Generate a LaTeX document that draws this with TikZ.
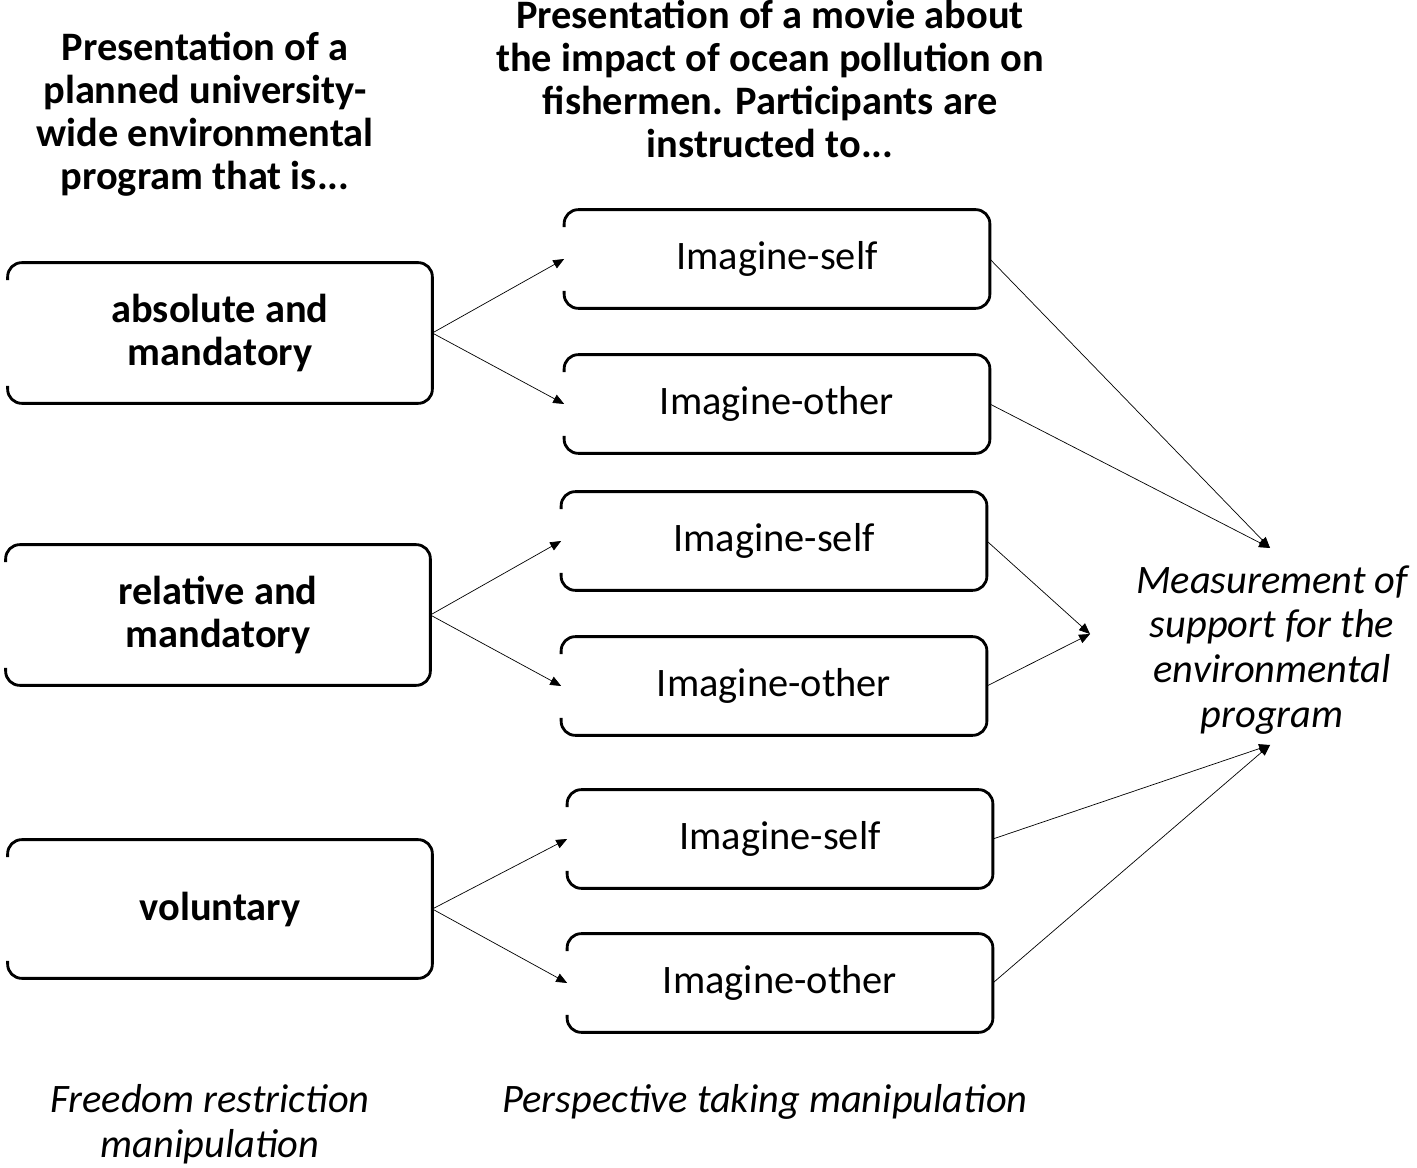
\documentclass[tikz,border=0pt]{standalone}
\usepackage{fontspec}
\setmainfont{Carlito}
\usetikzlibrary{positioning,arrows}
\tikzset{
    >=triangle 45,
    txt/.style={font={\fontsize{23pt}{25pt}\selectfont}, align=center},
    hdr/.style={txt, font={\fontsize{23pt}{24.5pt}\selectfont\bfseries}},
    note/.style={txt, font={\fontsize{23pt}{25.5pt}\selectfont\itshape}},
    box/.style={draw=none, minimum height=#1*0.02cm, inner sep=0pt},
    open/.style={line width=1.6pt, rounded corners=8pt},
    link/.style={->, thin},
}
\begin{document}
\begin{tikzpicture}[x=0.02cm,y=-0.02cm]
    \useasboundingbox (0,0) rectangle (1417,1168);

    % headers
    \node[hdr] (h1) at (205,114) {Presentation of a\\planned university-\\wide environmental\\program that is...};
    \node[hdr] (h2) at (770,79) {Presentation of a movie about\\the impact of ocean pollution on\\fishermen. Participants are\\instructed to...};

    % left boxes
    \node[box=140, minimum width=424*0.02cm, hdr] (abs) at (220,333) {absolute and\\mandatory};
    \node[box=140, minimum width=424*0.02cm, hdr] (rel) at (218,615) {relative and\\mandatory};
    \node[box=138, minimum width=424*0.02cm, hdr] (vol) at (220,909) {voluntary};

    % middle boxes
    \node[box=98, minimum width=425*0.02cm, txt] (s1) at (777,259) {Imagine-self};
    \node[box=98, minimum width=425*0.02cm, txt] (o1) at (777,404) {Imagine-other};
    \node[box=98, minimum width=425*0.02cm, txt] (s2) at (774,541) {Imagine-self};
    \node[box=98, minimum width=425*0.02cm, txt] (o2) at (774,686) {Imagine-other};
    \node[box=98, minimum width=425*0.02cm, txt] (s3) at (780,839) {Imagine-self};
    \node[box=98, minimum width=425*0.02cm, txt] (o3) at (780,983) {Imagine-other};

    % open-left outlines
    \foreach \n in {abs,rel,vol,s1,o1,s2,o2,s3,o3} {
        \draw[open] ([yshift=-10pt]\n.north west) -- (\n.north west) -- (\n.north east)
            -- (\n.south east) -- (\n.south west) -- ([yshift=10pt]\n.south west);
    }

    % outcome
    \node[note] (meas) at (1272,650) {Measurement of\\support for the\\environmental\\program};
    \coordinate (mtop) at (1270,548);
    \coordinate (mmid) at (1090,634);
    \coordinate (mbot) at (1270,745);

    % footers
    \node[note] (f1) at (210,1124) {Freedom restriction\\manipulation};
    \node[note] (f2) at (765,1102) {Perspective taking manipulation};

    % connectors
    \draw[link] (abs.east) -- (s1.west);
    \draw[link] (abs.east) -- (o1.west);
    \draw[link] (rel.east) -- (s2.west);
    \draw[link] (rel.east) -- (o2.west);
    \draw[link] (vol.east) -- (s3.west);
    \draw[link] (vol.east) -- (o3.west);
    \draw[link] (s1.east) -- (mtop);
    \draw[link] (o1.east) -- (mtop);
    \draw[link] (s2.east) -- (mmid);
    \draw[link] (o2.east) -- (mmid);
    \draw[link] (s3.east) -- (mbot);
    \draw[link] (o3.east) -- (mbot);
\end{tikzpicture}
\end{document}
